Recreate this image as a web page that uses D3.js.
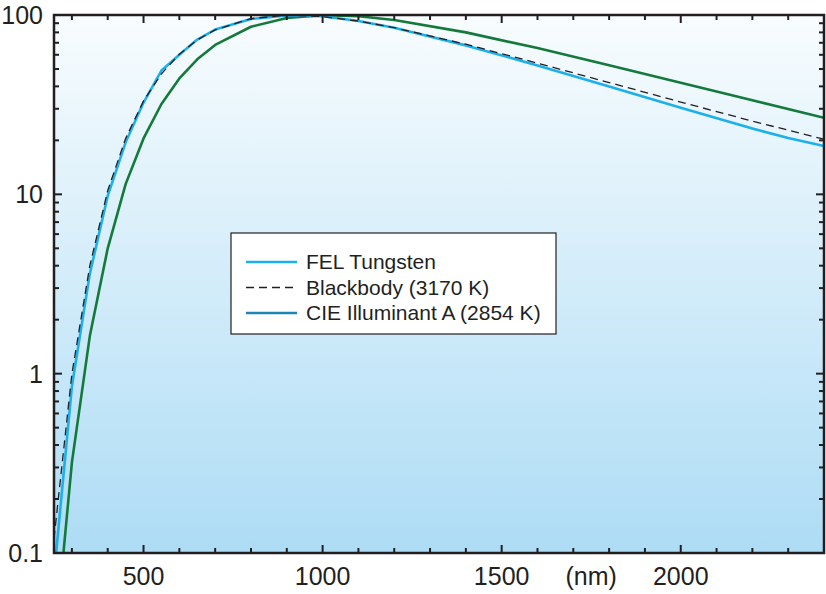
<!DOCTYPE html>
<html>
<head>
<meta charset="utf-8">
<script src="https://cdn.jsdelivr.net/npm/d3@7"></script>
<style>
  body { margin: 0; background: #fff; }
  svg text { font-family: "Liberation Sans", Arial, sans-serif; fill: #231f20; }
</style>
</head>
<body>
<div id="chart"></div>
<script>
// wavelengths (nm) and relative spectral output, normalised to 100
const felWave = [250, 300, 350, 400, 450, 500, 550, 600, 650, 700, 800, 900, 1000, 1100, 1200, 1400, 1600, 1800, 2000, 2200, 2300, 2400];
const felValue = [0.075, 0.85, 3.6, 9.8, 19.5, 32.5, 49, 60, 73, 83, 95, 99.5, 98.5, 92.5, 85, 67.7, 52.3, 39.9, 30.4, 23.3, 20.6, 18.6];

const bbWave = [250, 300, 350, 400, 450, 500, 550, 600, 650, 700, 800, 900, 1000, 1100, 1200, 1400, 1600, 1800, 2000, 2200, 2400];
const bbValue = [0.12, 1.0, 4.0, 10.5, 20.5, 33.2, 47, 60.5, 72.6, 82.6, 95.5, 99.9, 98, 92.5, 85, 68.7, 53.9, 42, 32.7, 25.6, 20.3];

const cieWave = [250, 300, 350, 400, 450, 500, 550, 600, 650, 700, 800, 900, 1000, 1100, 1200, 1400, 1600, 1800, 2000, 2200, 2400];
const cieValue = [0.0275, 0.32, 1.62, 5.0, 11.4, 20.5, 31.9, 44.3, 56.6, 68.1, 86, 96.3, 99.8, 98.4, 93.7, 80, 65.4, 52.5, 41.9, 33.5, 26.7];

const xTicks = [500, 1000, 1500, 2000];
const yTicks = [0.1, 1, 10, 100];
const legendLabels = ["FEL Tungsten", "Blackbody (3170 K)", "CIE Illuminant A (2854 K)"];

const W = 826, H = 594;
const margin = { top: 15, right: 2, bottom: 41, left: 54 };
const width = W - margin.left - margin.right;
const height = H - margin.top - margin.bottom;

const svg = d3.select("#chart").append("svg")
    .attr("width", W)
    .attr("height", H);

// background gradient
const defs = svg.append("defs");
const grad = defs.append("linearGradient")
    .attr("id", "bg").attr("x1", 0).attr("y1", 0).attr("x2", 0).attr("y2", 1);
grad.append("stop").attr("offset", "0%").attr("stop-color", "#f8fcfe");
grad.append("stop").attr("offset", "100%").attr("stop-color", "#addcf5");

defs.append("clipPath").attr("id", "clip")
    .append("rect").attr("width", width).attr("height", height);

const g = svg.append("g")
    .attr("transform", `translate(${margin.left},${margin.top})`);

g.append("rect")
    .attr("width", width)
    .attr("height", height)
    .attr("fill", "url(#bg)");

// scales
const x = d3.scaleLinear().domain([250, 2400]).range([0, width]);
const y = d3.scaleLog().domain([0.1, 100]).range([height, 0]);

// lines
const line = d3.line()
    .x(d => x(d[0]))
    .y(d => y(d[1]));

const plot = g.append("g").attr("clip-path", "url(#clip)");

plot.append("path")
    .datum(d3.zip(cieWave, cieValue))
    .attr("d", line)
    .attr("fill", "none")
    .attr("stroke", "#137a3b")
    .attr("stroke-width", 2.6)
    .attr("stroke-linejoin", "round");

plot.append("path")
    .datum(d3.zip(felWave, felValue))
    .attr("d", line)
    .attr("fill", "none")
    .attr("stroke", "#1bb0ec")
    .attr("stroke-width", 2.6)
    .attr("stroke-linejoin", "round");

plot.append("path")
    .datum(d3.zip(bbWave, bbValue))
    .attr("d", line)
    .attr("fill", "none")
    .attr("stroke", "#231f20")
    .attr("stroke-width", 1.3)
    .attr("stroke-dasharray", "8,5");

// ticks (inward, on all four sides)
const minorX = d3.range(300, 2400, 100);
const minorY = [];
[0.1, 1, 10].forEach(d => { for (let k = 1; k < 10; k++) minorY.push(d * k); });
minorY.push(100);

const axisColor = "#231f20";
const tickG = g.append("g").attr("stroke", axisColor).attr("stroke-width", 2);

minorX.forEach(v => {
    const len = v % 500 === 0 ? 8 : 5;
    tickG.append("line").attr("x1", x(v)).attr("x2", x(v)).attr("y1", height).attr("y2", height - len);
    tickG.append("line").attr("x1", x(v)).attr("x2", x(v)).attr("y1", 0).attr("y2", len);
});
minorY.forEach(v => {
    const major = yTicks.some(t => Math.abs(t - v) < 1e-9);
    const len = major ? 8 : 5;
    tickG.append("line").attr("x1", 0).attr("x2", len).attr("y1", y(v)).attr("y2", y(v));
    tickG.append("line").attr("x1", width).attr("x2", width - len).attr("y1", y(v)).attr("y2", y(v));
});

// frame
g.append("rect")
    .attr("width", width)
    .attr("height", height)
    .attr("fill", "none")
    .attr("stroke", axisColor)
    .attr("stroke-width", 2.5);

// tick labels
g.selectAll(".xlab")
    .data(xTicks)
    .enter().append("text")
    .attr("class", "xlab")
    .attr("x", d => x(d))
    .attr("y", height + 32)
    .attr("text-anchor", "middle")
    .attr("font-size", 25)
    .text(d => d);

g.append("text")
    .attr("x", x(1750))
    .attr("y", height + 32)
    .attr("text-anchor", "middle")
    .attr("font-size", 25)
    .text("(nm)");

g.selectAll(".ylab")
    .data(yTicks)
    .enter().append("text")
    .attr("class", "ylab")
    .attr("x", -11)
    .attr("y", d => y(d) + 9)
    .attr("text-anchor", "end")
    .attr("font-size", 25)
    .text(d => d);

// legend
const legend = svg.append("g").attr("transform", "translate(231,233)");
legend.append("rect")
    .attr("width", 325)
    .attr("height", 101)
    .attr("fill", "#fff")
    .attr("stroke", "#231f20")
    .attr("stroke-width", 1.2);

const legendStyles = [
    { color: "#1bb0ec", width: 2.4, dash: null },
    { color: "#231f20", width: 1.3, dash: "8,5" },
    { color: "#1a86b8", width: 2.4, dash: null }
];

legendLabels.forEach((label, i) => {
    const yy = 29 + i * 25.5;
    const st = legendStyles[i];
    legend.append("line")
        .attr("x1", 15).attr("x2", 66)
        .attr("y1", yy).attr("y2", yy)
        .attr("stroke", st.color)
        .attr("stroke-width", st.width)
        .attr("stroke-dasharray", st.dash);
    legend.append("text")
        .attr("x", 75)
        .attr("y", yy + 7)
        .attr("font-size", 21)
        .text(label);
});
</script>
</body>
</html>
